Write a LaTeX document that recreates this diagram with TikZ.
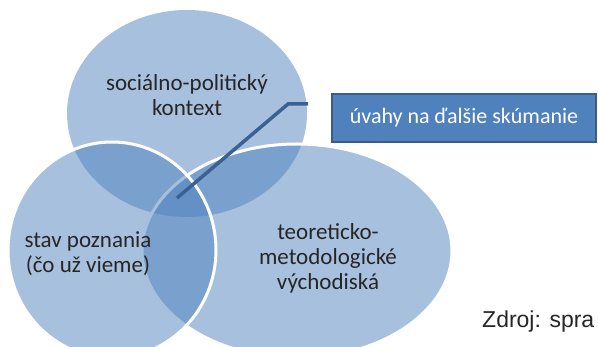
\documentclass[tikz,border=0pt]{standalone}
\usepackage{fontspec}
\setmainfont{Carlito}
\newfontfamily\zdrojfont{Liberation Sans}
\usetikzlibrary{shapes.geometric}
\definecolor{acc}{HTML}{4F81BD}
\definecolor{accdark}{HTML}{385D8A}
\definecolor{linec}{HTML}{3A6194}
\definecolor{txt}{HTML}{262626}
\begin{document}
\begin{tikzpicture}[x=1pt,y=-1pt,
  venn/.style={ellipse, inner sep=0pt, fill=acc, fill opacity=0.5},
  vennline/.style={draw=white, line width=3pt},
  lbl/.style={font=\fontsize{23}{25}\selectfont, text=txt, align=center},
  boxst/.style={draw=accdark, line width=2pt, fill=acc, text=white, inner sep=0pt,
    font=\fontsize{22}{26}\selectfont},
  conn/.style={draw=linec, line width=3.5pt}]
\useasboundingbox (0,0) rectangle (598,347);
\clip (0,0) rectangle (598,347);
\node[venn, minimum width=240, minimum height=207] (top) at (187,113.5) {};
\node[venn, vennline, minimum width=310, minimum height=214] (right) at (297,251) {};
\node[venn, vennline, minimum width=208, minimum height=216] (left) at (112,250) {};
\node[lbl] (t1) at (187,95) {sociálno-politický\\kontext};
\node[lbl] (t2) at (88,254) {stav poznania\\(čo už vieme)};
\node[lbl] (t3) at (328,258) {teoreticko-\\metodologické\\východiská};
\node[boxst, minimum width=264, minimum height=48] (box) at (464,118) {úvahy na ďalšie skúmanie};
\coordinate (a) at (177,198);
\coordinate (b) at (288,104);
\coordinate (c) at (308,104);
\draw[conn] (a) -- (b) -- (c);
\node[anchor=base west, font=\zdrojfont\fontsize{23}{27}\selectfont, text=black!85, inner sep=0pt] (z) at (482,328) {Zdroj: spra};
\end{tikzpicture}
\end{document}
